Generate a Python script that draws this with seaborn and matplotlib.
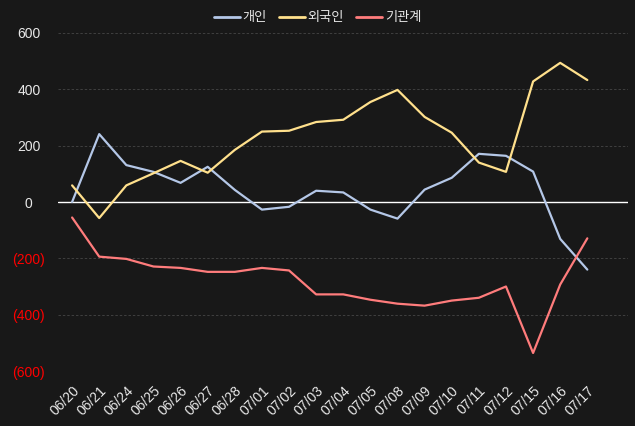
import matplotlib
matplotlib.use("Agg")
import matplotlib.pyplot as plt
import seaborn as sns
import pandas as pd

dates = ["06/20", "06/21", "06/24", "06/25", "06/26", "06/27", "06/28", "07/01", "07/02", "07/03",
         "07/04", "07/05", "07/08", "07/09", "07/10", "07/11", "07/12", "07/15", "07/16", "07/17"]
individual = [0, 241, 131, 107, 68, 125, 43, -27, -17, 40, 34, -27, -59, 44, 86, 171, 164, 108, -131, -240]
foreign = [59, -57, 59, 102, 146, 104, 185, 250, 253, 284, 292, 355, 398, 302, 246, 140, 107, 428, 494, 433]
institution = [-55, -194, -202, -229, -234, -248, -248, -234, -243, -328, -328, -347, -361, -368, -350, -340, -300, -536, -293, -129]
series_names = ["개인", "외국인", "기관계"]
colors = ["#b4c7e7", "#ffe08c", "#ff7c7c"]
yticks = [600, 400, 200, 0, -200, -400, -600]

df = pd.DataFrame({"date": dates, series_names[0]: individual,
                   series_names[1]: foreign, series_names[2]: institution})
long = df.melt(id_vars="date", var_name="series", value_name="value")
long["x"] = long["date"].map({d: i for i, d in enumerate(dates)})

sns.set_theme(style="dark")
plt.rcParams["font.family"] = ["Noto Sans CJK KR", "DejaVu Sans"]
bg = "#181818"
fig = plt.figure(figsize=(6.35, 4.26), dpi=100, facecolor=bg)
ax = fig.add_axes([58/635, (426-371)/426, (628-58)/635, (371-33)/426])
ax.set_facecolor(bg)

sns.lineplot(data=long, x="x", y="value", hue="series", hue_order=series_names,
             palette=colors, linewidth=1.6, ax=ax, legend=True)

ax.set_ylim(-600, 600)
ax.set_xlim(-0.52, 20.5)
ax.set_yticks(yticks)
for y in yticks:
    if y == 0:
        ax.axhline(0, color="#ffffff", linewidth=1.0, zorder=1)
    else:
        ax.axhline(y, color="#404040", linewidth=0.7, linestyle=(0, (2.5, 2)), zorder=0)
ax.grid(False)
ax.set_yticklabels([f"{y}" if y >= 0 else f"({-y})" for y in yticks], fontsize=10,
                   family=["Liberation Sans"], ha="center")
for lab, y in zip(ax.get_yticklabels(), yticks):
    lab.set_color("#ff0000" if y < 0 else "#e8e8e8")
ax.set_xticks(range(len(dates)))
ax.set_xticklabels(dates, rotation=45, ha="right", rotation_mode="anchor",
                   fontsize=10, color="#e8e8e8", family=["Liberation Sans"])
ax.tick_params(axis="y", length=0, pad=21)
ax.tick_params(axis="x", length=0, pad=9)
ax.set_xlabel("")
ax.set_ylabel("")
for s in ax.spines.values():
    s.set_visible(False)

leg = ax.legend(loc="center", bbox_to_anchor=(0.5, 1 - 18/426), bbox_transform=fig.transFigure,
                ncol=3, frameon=False,
                fontsize=9.5, handlelength=2.0, handletextpad=0.2, columnspacing=0.9,
                labelcolor="#e8e8e8")
for h in leg.get_lines():
    h.set_linewidth(2.0)

fig.savefig("out.png", dpi=100, facecolor=bg)
